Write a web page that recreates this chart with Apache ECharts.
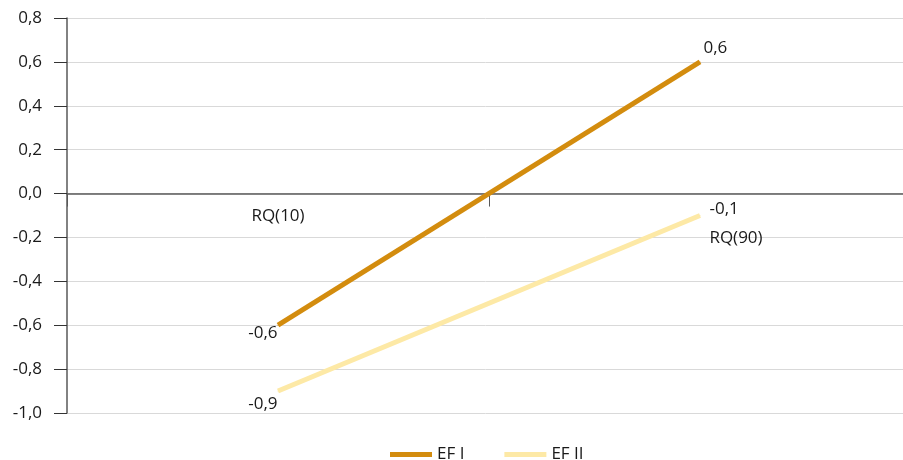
<!DOCTYPE html>
<html>
<head>
<meta charset="utf-8">
<script src="https://cdn.jsdelivr.net/npm/echarts@6/dist/echarts.min.js"></script>
<style>html,body{margin:0;padding:0;background:#fff}#c{width:903px;height:460px}</style>
</head>
<body>
<div id="c"></div>
<script>
var categories = ['RQ(10)', 'RQ(90)'];
var seriesNames = ['EF I', 'EF II'];
var efI = [-0.6, 0.6];
var efII = [-0.9, -0.1];
var yTicks = [-1.0, -0.8, -0.6, -0.4, -0.2, 0.0, 0.2, 0.4, 0.6, 0.8];

var fmt = function (v) { return v.toFixed(1).replace('.', ','); };
var font = '"Open Sans", "Noto Sans", sans-serif';
var FS = 17;
var TC = '#1a1a1a';
var labelBase = { show: true, fontSize: FS, color: TC, fontFamily: font, formatter: function (p) { return fmt(p.value); } };

function mk(vals, cfgs) {
  return vals.map(function (v, i) {
    return { value: v, label: Object.assign({}, labelBase, cfgs[i]) };
  });
}

var chart = echarts.init(document.getElementById('c'));
chart.setOption({
  animation: false,
  textStyle: { fontFamily: font },
  grid: { left: 67, top: 18, bottom: 47, width: 844, containLabel: false, outerBoundsMode: 'none' },
  legend: {
    left: 385, top: 441,
    icon: 'rect', itemWidth: 42, itemHeight: 5, itemGap: 40,
    textStyle: { fontSize: FS, color: TC, fontFamily: font },
    data: seriesNames
  },
  xAxis: {
    type: 'category',
    data: categories,
    boundaryGap: true,
    axisLine: { onZero: true, lineStyle: { color: '#595959', width: 1.5 } },
    axisTick: { show: true, length: 13, lineStyle: { color: '#595959' } },
    axisLabel: {
      margin: -205, fontSize: FS, color: TC, fontFamily: font,
      formatter: function (v, i) { return i === 1 ? '{b|' + v + '}' : '{a|' + v + '}'; },
      rich: {
        a: { fontSize: FS, color: TC, fontFamily: font },
        b: { fontSize: FS, color: TC, fontFamily: font, padding: [22, 0, 0, 72] }
      }
    },
    splitLine: { show: false }
  },
  yAxis: {
    type: 'value',
    min: yTicks[0], max: yTicks[yTicks.length - 1], interval: 0.2,
    axisLine: { show: true, lineStyle: { color: '#595959', width: 1.5 } },
    axisTick: { show: true, length: 13, lineStyle: { color: '#333' } },
    axisLabel: { margin: 25, fontSize: FS, color: TC, fontFamily: font, formatter: function (v) { return fmt(v); } },
    splitLine: { show: true, lineStyle: { color: '#d9d9d9', width: 1 } }
  },
  series: [
    {
      name: seriesNames[0], type: 'line',
      symbol: 'circle', symbolSize: 1,
      itemStyle: { color: '#D38C0E' },
      lineStyle: { color: '#D38C0E', width: 5 },
      data: mk(efI, [
        { position: 'left', distance: 0, offset: [0, 8] },
        { position: 'right', distance: 3, offset: [0, -14] }
      ])
    },
    {
      name: seriesNames[1], type: 'line',
      symbol: 'circle', symbolSize: 1,
      itemStyle: { color: '#FDE9A6' },
      lineStyle: { color: '#FDE9A6', width: 5 },
      data: mk(efII, [
        { position: 'left', distance: 0, offset: [0, 13] },
        { position: 'right', distance: 9, offset: [0, -6] }
      ])
    }
  ]
});
</script>
</body>
</html>
